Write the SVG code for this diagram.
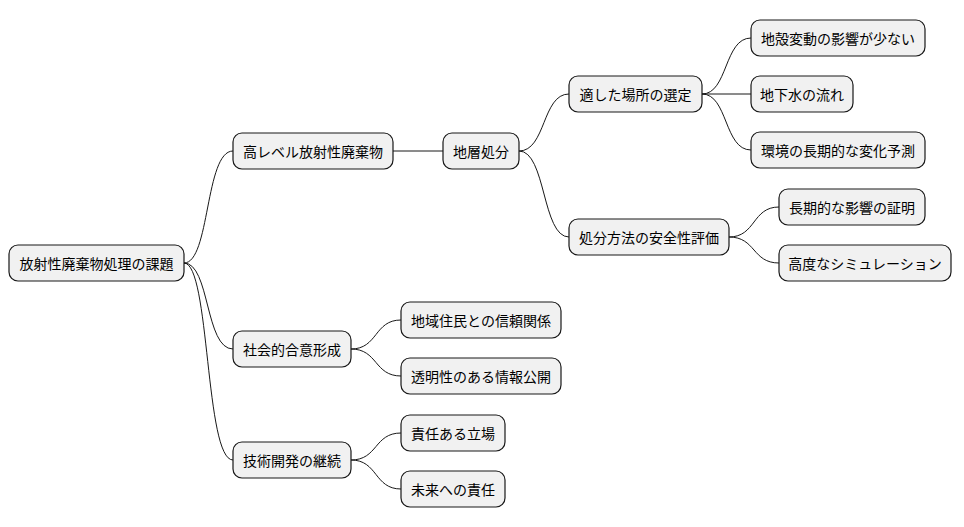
<svg xmlns="http://www.w3.org/2000/svg" width="964" height="527" viewBox="0 0 964 527">
<style>
.n rect{fill:#f1f1f1;stroke:#181818;stroke-width:1.2}
.n text{font-family:"Noto Sans CJK JP","Noto Sans CJK SC",sans-serif;font-size:14px;fill:#000;dominant-baseline:central}
#c path{fill:none;stroke:#181818;stroke-width:1}
</style>
<rect width="964" height="527" fill="#fff"/>
<g id="c">
<path d="M184,263 C210,263 205,151 233,151"/>
<path d="M184,263 C210,263 205,349 233,349"/>
<path d="M184,263 C210,263 205,460 233,460"/>
<path d="M393,151 L443,151"/>
<path d="M519,151 C546,151 542,94 569,94"/>
<path d="M519,151 C546,151 542,237 569,237"/>
<path d="M702,94 C728,94 724,38 751,38"/>
<path d="M702,94 L751,94"/>
<path d="M702,94 C728,94 724,150 751,150"/>
<path d="M729,237 C756,237 752,207 779,207"/>
<path d="M729,237 C756,237 752,263 779,263"/>
<path d="M351,349 C378,349 374,320 401,320"/>
<path d="M351,349 C378,349 374,376 401,376"/>
<path d="M351,460 C378,460 374,433 401,433"/>
<path d="M351,460 C378,460 374,489 401,489"/>
</g>
<g id="root" class="n"><rect x="9" y="245" width="175" height="36" rx="9"/><text x="96.5" y="263" text-anchor="middle">放射性廃棄物処理の課題</text></g>
<g id="n1" class="n"><rect x="233" y="133" width="160" height="36" rx="9"/><text x="313" y="151" text-anchor="middle">高レベル放射性廃棄物</text></g>
<g id="n2" class="n"><rect x="443" y="133" width="76" height="36" rx="9"/><text x="481" y="151" text-anchor="middle">地層処分</text></g>
<g id="n3" class="n"><rect x="569" y="76" width="133" height="36" rx="9"/><text x="635.5" y="94" text-anchor="middle">適した場所の選定</text></g>
<g id="n4" class="n"><rect x="751" y="20" width="174" height="36" rx="9"/><text x="838" y="38" text-anchor="middle">地殻変動の影響が少ない</text></g>
<g id="n5" class="n"><rect x="751" y="76" width="102" height="36" rx="9"/><text x="802" y="94" text-anchor="middle">地下水の流れ</text></g>
<g id="n6" class="n"><rect x="751" y="132" width="174" height="36" rx="9"/><text x="838" y="150" text-anchor="middle">環境の長期的な変化予測</text></g>
<g id="n7" class="n"><rect x="569" y="219" width="160" height="36" rx="9"/><text x="649" y="237" text-anchor="middle">処分方法の安全性評価</text></g>
<g id="n8" class="n"><rect x="779" y="189" width="146" height="36" rx="9"/><text x="852" y="207" text-anchor="middle">長期的な影響の証明</text></g>
<g id="n9" class="n"><rect x="779" y="245" width="172" height="36" rx="9"/><text x="865" y="263" text-anchor="middle">高度なシミュレーション</text></g>
<g id="n10" class="n"><rect x="233" y="331" width="118" height="36" rx="9"/><text x="292" y="349" text-anchor="middle">社会的合意形成</text></g>
<g id="n11" class="n"><rect x="401" y="302" width="160" height="36" rx="9"/><text x="481" y="320" text-anchor="middle">地域住民との信頼関係</text></g>
<g id="n12" class="n"><rect x="401" y="358" width="160" height="36" rx="9"/><text x="481" y="376" text-anchor="middle">透明性のある情報公開</text></g>
<g id="n13" class="n"><rect x="233" y="442" width="118" height="36" rx="9"/><text x="292" y="460" text-anchor="middle">技術開発の継続</text></g>
<g id="n14" class="n"><rect x="401" y="415" width="104" height="36" rx="9"/><text x="453" y="433" text-anchor="middle">責任ある立場</text></g>
<g id="n15" class="n"><rect x="401" y="471" width="104" height="36" rx="9"/><text x="453" y="489" text-anchor="middle">未来への責任</text></g>
</svg>
